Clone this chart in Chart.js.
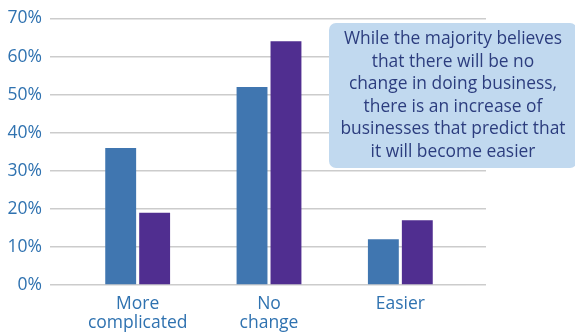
<!DOCTYPE html>
<html>
<head>
<meta charset="utf-8">
<script src="https://cdn.jsdelivr.net/npm/chart.js@4"></script>
<style>
  html, body { margin: 0; padding: 0; background: #fff; }
  #wrap { position: relative; width: 575px; height: 334px; }
  #note {
    position: absolute; left: 329px; top: 23px; width: 248px; height: 145px;
    background: #c1d9ef; border-radius: 7px;
    font-family: "Open Sans", sans-serif; font-size: 17.4px; line-height: 22.6px;
    color: #2c3d7e; text-align: center; box-sizing: border-box; padding-top: 3px;
    white-space: nowrap;
  }
</style>
</head>
<body>
<div id="wrap">
  <canvas id="chart" width="575" height="334"></canvas>
  <div id="note">While the majority believes<br>that there will be no<br>change in doing business,<br>there is an increase of<br>businesses that predict that<br>it will become easier</div>
</div>
<script>
var categories = [['More', 'complicated'], ['No', 'change'], 'Easier'];
var firstValues = [36, 52, 12];
var secondValues = [19, 64, 17];
var tickLabels = ['0%', '10%', '20%', '30%', '40%', '50%', '60%', '70%'];

var labelBlue = '#2f72b0';
var gridGray = '#cccccc';

var ctx = document.getElementById('chart').getContext('2d');
var chart = new Chart(ctx, {
    type: 'bar',
    data: {
        labels: categories,
        datasets: [{
            data: firstValues,
            backgroundColor: '#4076b0'
        }, {
            data: secondValues,
            backgroundColor: '#502e90'
        }]
    },
    options: {
        responsive: false,
        animation: false,
        layout: { padding: { top: 14, right: 89, bottom: 0, left: 0 } },
        plugins: { legend: { display: false }, tooltip: { enabled: false } },
        datasets: { bar: { categoryPercentage: 0.517, barPercentage: 0.91 } },
        scales: {
            x: {
                // fixed height keeps the plot bottom where the two-line labels need it
                afterFit: function(scale) { scale.height = 49; },
                grid: { display: false, drawTicks: false },
                border: { display: false },
                ticks: {
                    color: labelBlue,
                    padding: 10,
                    maxRotation: 0,
                    font: { family: 'Open Sans', size: 17.5, lineHeight: 1.07 }
                }
            },
            y: {
                min: 0, max: 70,
                afterFit: function(scale) { scale.width = 72; },
                border: { display: false },
                grid: { color: gridGray, lineWidth: 1.5, tickLength: 22, tickColor: gridGray },
                ticks: {
                    stepSize: 10,
                    color: labelBlue,
                    padding: 8,
                    font: { family: 'Open Sans', size: 17.5 },
                    callback: function(v) { return tickLabels[v / 10]; }
                }
            },
            // label-less axis on the right just to run the grid lines past the last bars
            yRight: {
                position: 'right',
                min: 0, max: 70,
                afterFit: function(scale) { scale.width = 20; },
                border: { display: false },
                grid: { color: gridGray, lineWidth: 1.5, tickLength: 20, tickColor: gridGray, drawOnChartArea: false },
                ticks: { stepSize: 10, display: false }
            }
        }
    }
});
</script>
</body>
</html>
